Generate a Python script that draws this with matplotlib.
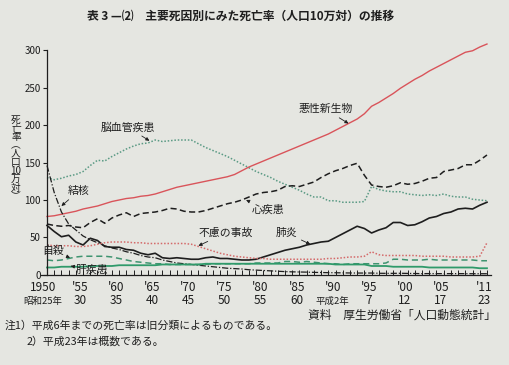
import matplotlib
matplotlib.use('Agg')
import matplotlib.pyplot as plt
from matplotlib.transforms import blended_transform_factory

FONT = ['Noto Sans CJK JP', 'DejaVu Sans']
plt.rcParams['font.family'] = FONT

# ---------------- data ----------------
years = list(range(1950, 2012))

cancer = [78, 79, 81, 83, 85, 88, 90, 92, 95, 98,
          100, 102, 103, 105, 106, 108, 111, 114, 117, 119,
          121, 123, 125, 127, 129, 131, 134, 139, 144, 148,
          152, 156, 160, 164, 168, 172, 176, 180, 184, 188,
          193, 198, 203, 208, 215, 225, 230, 236, 242, 249,
          255, 261, 266, 272, 277, 282, 287, 292, 297, 299,
          304, 308]
cerebro = [130, 127, 129, 132, 134, 138, 146, 153, 152, 158,
           163, 168, 172, 175, 176, 180, 178, 179, 180, 180,
           180, 175, 170, 166, 162, 158, 153, 148, 143, 138,
           134, 130, 125, 121, 117, 113, 108, 104, 104, 99,
           99, 97, 97, 97, 98, 118, 114, 112, 111, 111,
           108, 107, 106, 107, 106, 108, 105, 104, 104, 101,
           100, 99]
heart = [68, 66, 65, 66, 64, 63, 70, 75, 69, 76,
         80, 83, 78, 82, 83, 84, 86, 89, 88, 85,
         84, 84, 86, 89, 92, 95, 97, 100, 104, 108,
         110, 111, 113, 118, 119, 118, 121, 124, 130, 135,
         139, 142, 146, 149, 133, 120, 118, 117, 119, 123,
         121, 122, 125, 129, 130, 138, 140, 142, 147, 147,
         153, 160]
pneumonia = [66, 58, 51, 53, 44, 40, 49, 46, 38, 37,
             37, 34, 33, 29, 27, 29, 23, 22, 23, 22,
             21, 21, 23, 24, 22, 22, 21, 20, 20, 21,
             24, 27, 30, 33, 35, 37, 40, 42, 44, 45,
             50, 55, 60, 65, 62, 56, 60, 63, 70, 70,
             66, 67, 71, 76, 78, 82, 84, 88, 89, 88,
             93, 97]
tb = [146, 110, 84, 68, 60, 52, 47, 43, 39, 36,
      34, 31, 29, 26, 24, 23, 20, 18, 16, 15,
      14, 13, 12, 11, 10, 9, 8.5, 8, 7, 6.5,
      6, 5.5, 5, 4.5, 4.2, 4, 3.8, 3.5, 3.3, 3.1,
      3, 2.8, 2.7, 2.6, 2.6, 2.6, 2.3, 2.2, 2.2, 2.3,
      2.1, 2, 1.8, 1.9, 1.8, 1.8, 1.8, 1.8, 1.8, 1.7,
      1.7, 1.7]
accident = [40, 39, 39, 39, 38, 38, 39, 41, 43, 44,
            44, 44, 43, 43, 42, 42, 42, 42, 42, 42,
            41, 38, 35, 32, 29, 27, 25, 24, 23, 22,
            22, 21, 21, 21, 21, 21, 21, 21, 21, 22,
            22, 23, 24, 24, 25, 31, 27, 26, 26, 26,
            26, 26, 25, 25, 25, 25, 24, 24, 24, 24,
            25, 43]
suicide = [20, 19, 20, 22, 24, 25, 25, 25, 25, 24,
           22, 20, 18, 17, 16, 15, 15, 14, 14, 14,
           14, 14, 14, 15, 15, 15, 15, 15, 15, 16,
           16, 16, 16, 18, 18, 17, 18, 17, 16, 15,
           15, 14, 15, 15, 15, 15, 15, 16, 21, 21,
           20, 20, 20, 21, 20, 20, 20, 20, 20, 20,
           19, 19]
liver = [10, 10, 11, 11, 11, 11, 12, 12, 12, 12,
         13, 13, 13, 13, 13, 13, 14, 14, 14, 14,
         14, 14, 15, 15, 15, 15, 15, 15, 15, 15,
         15, 15, 15, 15, 15, 15, 15, 15, 15, 15,
         14, 14, 14, 14, 14, 12, 12, 12, 11, 11,
         11, 11, 11, 10, 10, 10, 10, 10, 10, 10,
         9, 9]

xtick_years = [1950, 1955, 1960, 1965, 1970, 1975, 1980, 1985, 1990, 1995, 2000, 2005, 2011]
xtick_line1 = ["1950", "'55", "'60", "'65", "'70", "'75", "'80", "'85", "'90", "'95", "'00", "'05", "'11"]
xtick_line2 = ["昭和25年", "30", "35", "40", "45", "50", "55", "60", "平成2年", "7", "12", "17", "23"]
yticks = [0, 50, 100, 150, 200, 250, 300]

title = "表 3 —⑵　主要死因別にみた死亡率（人口10万対）の推移"
ylabel_chars = ["死", "亡", "率", "︵", "人", "口", "10", "万", "対", "︶"]
note1 = "注1）平成6年までの死亡率は旧分類によるものである。"
note2 = "2）平成23年は概数である。"
source = "資料　厚生労働省「人口動態統計」"

# ---------------- figure ----------------
BG = '#e5e6e1'
INK = '#1e1e1e'
fig = plt.figure(figsize=(5.1, 3.65), dpi=100, facecolor=BG)
ax = fig.add_axes([0.0851, 0.2466, 0.8839, 0.641])
ax.set_facecolor(BG)

ax.plot(years, cerebro, color='#5a9a84', lw=1.1, ls=(0, (1, 1.2)))
ax.plot(years, cancer, color='#d9545a', lw=1.0)
ax.plot(years, heart, color=INK, lw=1.1, ls=(0, (4, 2.2)))
ax.plot(years, pneumonia, color=INK, lw=1.2)
ax.plot(years, tb, color=INK, lw=0.9, ls=(0, (5, 1.5, 1, 1.5)))
ax.plot(years, accident, color='#d46a6a', lw=1.1, ls=(0, (1, 1.2)))
ax.plot(years, suicide, color='#3f9470', lw=1.1, ls=(0, (4, 2.5)))
ax.plot(years, liver, color='#2f9a6a', lw=1.3)

ax.set_xlim(1949.5, 2012)
ax.set_ylim(0, 312)
for s in ['top', 'right']:
    ax.spines[s].set_visible(False)
ax.spines['left'].set_position(('data', 1950))
ax.spines['left'].set_bounds(0, 300)
ax.spines['bottom'].set_bounds(1949.2, 2011.6)
ax.spines['left'].set_color(INK)
ax.spines['bottom'].set_color(INK)
ax.spines['left'].set_linewidth(0.9)
ax.spines['bottom'].set_linewidth(0.9)

ax.set_yticks(yticks)
ax.tick_params(axis='y', direction='out', length=3, width=0.8, pad=1.5,
               labelsize=7, colors=INK)
ax.set_xticks(xtick_years)
ax.set_xticklabels([])
ax.set_xticks(years, minor=True)
ax.tick_params(axis='x', which='both', direction='in', length=3.5, width=0.7, colors=INK)

trans = blended_transform_factory(ax.transData, ax.transAxes)
for x, l1, l2 in zip(xtick_years, xtick_line1, xtick_line2):
    ax.annotate(l1, xy=(x, 0), xycoords=trans, xytext=(-2 if x != 1950 else -3, -4),
                textcoords='offset points', ha='center', va='top', fontsize=8.5,
                color=INK)
    fs2 = 6.8 if len(l2) > 2 else 8.5
    dy = -16 if len(l2) > 2 else -14
    ax.annotate(l2, xy=(x, 0), xycoords=trans, xytext=(-2 if x != 1950 else -3, dy),
                textcoords='offset points', ha='center', va='top', fontsize=fs2,
                color=INK)

# series labels
arrow = dict(arrowstyle='-|>', lw=0.6, color=INK, mutation_scale=5,
             shrinkA=1, shrinkB=0)
labels = [
    ("脳血管疾患", (1961.2, 197), (1964.2, 179)),
    ("結核", (1954.4, 112), (1952.0, 92)),
    ("悪性新生物", (1988.6, 221), (1991.8, 202)),
    ("心疾患", (1980.6, 87), (1977.6, 100)),
    ("不慮の事故", (1974.8, 56), (1971.0, 39)),
    ("肺炎", (1983.2, 56), (1986.5, 41)),
    ("自殺", (1950.9, 32), (1953.2, 23)),
    ("肝疾患", (1956.2, 7), (1953.3, 12)),
]
for text, xyt, xy in labels:
    ax.annotate(text, xy=xy, xytext=xyt, ha='center', va='center',
                fontsize=7.8, color=INK, arrowprops=arrow)

# y label (vertical, stacked characters)
fig.text(16 / 510, 1 - 158 / 365, "\n".join(ylabel_chars), ha='center', va='center',
         fontsize=7, color=INK, linespacing=0.82)

fig.text(241 / 510, 1 - 16 / 365, title, ha='center', va='center', fontsize=8.5,
         fontweight='bold', color=INK)
fig.text(5 / 510, 1 - 326 / 365, note1, ha='left', va='center', fontsize=7.8, color=INK)
fig.text(27 / 510, 1 - 341 / 365, note2, ha='left', va='center', fontsize=7.8, color=INK)
fig.text(496 / 510, 1 - 315 / 365, source, ha='right', va='center', fontsize=8.5, color=INK)

fig.savefig('out.png', dpi=100, facecolor=BG)
